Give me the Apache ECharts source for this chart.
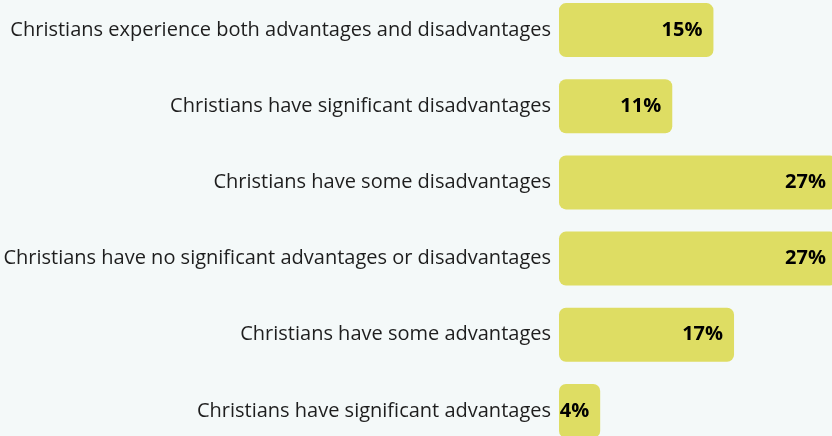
<!DOCTYPE html>
<html>
<head>
<meta charset="utf-8">
<script src="https://cdn.jsdelivr.net/npm/echarts@6/dist/echarts.min.js"></script>
<style>
  html, body { margin: 0; padding: 0; background: #f4f9f9; overflow: hidden; }
  #wrap { position: relative; width: 832px; height: 436px; overflow: hidden; }
  /* the plot is a little taller than the window so the bands keep an even pitch */
  #chart { position: absolute; left: 0; top: -8px; width: 840px; height: 457px; }
</style>
</head>
<body>
<div id="wrap"><div id="chart"></div></div>
<script>
// Survey responses: perceived advantages/disadvantages for Christians
const categories = [
  'Christians experience both advantages and disadvantages',
  'Christians have significant disadvantages',
  'Christians have some disadvantages',
  'Christians have no significant advantages or disadvantages',
  'Christians have some advantages',
  'Christians have significant advantages'
];
const shares = [15, 11, 27, 27, 17, 4];

const chart = echarts.init(document.getElementById('chart'), null, { renderer: 'canvas' });
chart.setOption({
  backgroundColor: '#f4f9f9',
  animation: false,
  grid: { left: 559, top: 0, width: 278, height: 457, containLabel: false },
  xAxis: {
    type: 'value', min: 0, max: 27,
    show: false
  },
  yAxis: {
    type: 'category',
    data: categories,
    inverse: true,
    axisLine: { show: false },
    axisTick: { show: false },
    axisLabel: {
      margin: 8,
      padding: [3, 0, 0, 0],
      color: '#1e1e1e',
      fontFamily: 'Open Sans',
      fontSize: 20
    }
  },
  series: [{
    type: 'bar',
    data: shares,
    barWidth: 54,
    itemStyle: { color: '#dedd63', borderRadius: 7 },
    label: {
      show: true,
      position: 'insideRight',
      distance: 11,
      padding: [3, 0, 0, 0],
      formatter: p => p.value + '%',
      color: '#000',
      fontFamily: 'Open Sans',
      fontWeight: 'bold',
      fontSize: 20
    }
  }]
});
</script>
</body>
</html>
